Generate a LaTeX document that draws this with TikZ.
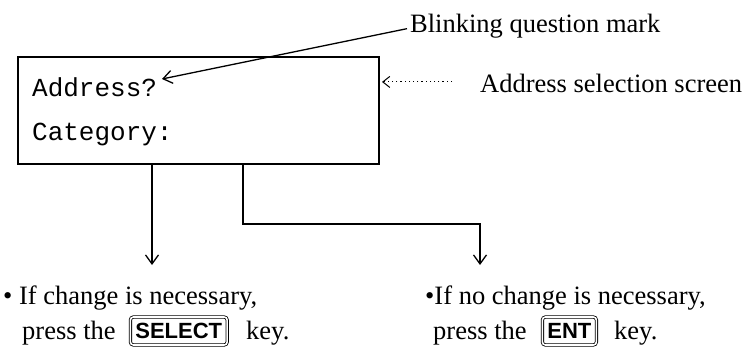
\documentclass[tikz,border=0pt]{standalone}
\usepackage{fontspec}
\setmainfont{Liberation Serif}
\newfontfamily\scrfont{Liberation Mono}
\newfontfamily\keyfont{Liberation Sans}
\usetikzlibrary{arrows.meta}
\begin{document}
\begin{tikzpicture}[x=1pt,y=-1pt,
  lbl/.style={font=\fontsize{26.5}{30}\selectfont, inner sep=0pt, anchor=base west},
  scr/.style={font=\scrfont\fontsize{26}{30}\selectfont, inner sep=0pt, anchor=base west},
  keycap/.style={draw, double, double distance=1.6pt, rounded corners=3pt, line width=0.8pt,
    font=\keyfont\bfseries\fontsize{22}{24}\selectfont, inner xsep=5pt, inner ysep=0pt,
    minimum height=28pt, anchor=west},
  conn/.style={line width=1.3pt, -{Straight Barb[length=9pt,width=13pt,line width=1.3pt]}},
  dotarrow/.style={line width=1pt, dash pattern=on 1.2pt off 3pt, -{Straight Barb[length=7pt,width=11pt,line width=1pt]}},
]
\useasboundingbox (0,0) rectangle (748,353);
% screen
\node[draw, line width=2pt, minimum width=361pt, minimum height=107pt, anchor=north west, inner sep=0pt] (screen) at (17,56) {};
\node[scr] (addr) at (32,97) {Address?};
\node[scr] (cat) at (32,141) {Category:};
% labels
\node[lbl] (blink) at (410,33) {Blinking question mark};
\coordinate (qm) at (162,79);
\draw[conn] ([xshift=-3pt,yshift=-2pt]blink.west) -- (qm);
\node[lbl] (sel) at (480,93) {Address selection screen};
\coordinate (ds) at ([xshift=-28pt,yshift=2pt]sel.west);
\draw[dotarrow] (ds) -- ([xshift=2pt]screen.east |- ds);
% bottom texts
\node[lbl] (l1) at (3,304) {\textbullet\ If change is necessary,};
\node[lbl] (l2) at (22,339) {press the};
\node[keycap] (k1) at (130,331) {SELECT};
\node[lbl] (l3) at (246,339) {key.};
\node[lbl] (r1) at (425,304) {\textbullet If no change is necessary,};
\node[lbl] (r2) at (433,339) {press the};
\node[keycap] (k2) at (542,331) {ENT};
\node[lbl] (r3) at (614,339) {key.};
% connectors
\coordinate (lt) at (152,265);
\coordinate (rt) at (480,265);
\draw[conn] (screen.south -| lt) -- (lt);
\draw[conn] ([xshift=226pt]screen.south west) -- ++(0,59) -| (rt);
\end{tikzpicture}
\end{document}
